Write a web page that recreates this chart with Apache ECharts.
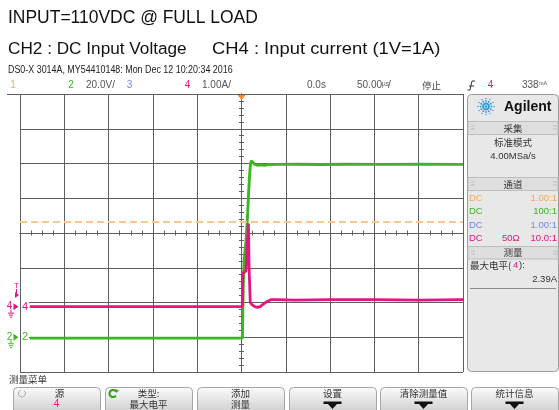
<!DOCTYPE html>
<html>
<head>
<meta charset="utf-8">
<script src="https://cdn.jsdelivr.net/npm/echarts@6.0.0/dist/echarts.min.js"></script>
<style>
html,body{margin:0;padding:0;background:#ffffff;}
#chart{width:559px;height:410px;}
</style>
</head>
<body>
<div id="chart"></div>
<script>
// ---------------- data ----------------
// CH2 : DC input voltage (V) against time (µs, trigger at 0)
const ch2TimeUs = [-239, 1.0, 2.0, 3.0, 5.0, 6.0, 7.0, 8.0, 9.0, 10.0, 11.0, 13.0, 15.0, 18.0, 22.0, 26.0, 30.0, 40.0, 60.0, 90.0, 120.0, 160.0, 200.0, 250.0];
const ch2Volts  = [-0.5, -0.5, 30, 45, 55, 63, 72, 83, 92, 99, 101.5, 101, 99.5, 99.0, 99.3, 98.9, 99.4, 99.5, 99.6, 99.4, 99.6, 99.5, 99.6, 99.5];
// CH4 : input current (A) against time (µs)
const ch4TimeUs = [-239, 1.0, 1.3, 3.0, 5.0, 7.0, 7.8, 8.6, 9.3, 9.9, 12.0, 15.0, 18.0, 21.0, 25.0, 29.0, 33.0, 40.0, 60.0, 100.0, 150.0, 200.0, 250.0];
const ch4Amps   = [0, 0, 0.95, 1.0, 1.03, 1.08, 2.39, 1.1, 1.07, 0.12, 0.05, 0.0, -0.02, 0.0, 0.08, 0.15, 0.2, 0.2, 0.19, 0.2, 0.2, 0.19, 0.2];
// scope settings
const timePerDivUs = 50;
const ch2VoltsPerDiv = 20;
const ch2GroundDiv = -3;
const ch4AmpsPerDiv = 1;
const ch4GroundDiv = -2.12;
const ch4TrigLevelA = 0.338;
const ch1LevelA = 2.43;
// texts
const titleText = 'INPUT=110VDC @ FULL LOAD';
const ch2Label = 'CH2 : DC Input Voltage';
const ch4Label = 'CH4 : Input current (1V=1A)';
const infoText = 'DS0-X 3014A, MY54410148: Mon Dec 12 10:20:34 2016';
const maxLevelText = '2.39A';

// ---------------- chart ----------------
const GRID = '#5e5e5e';
const C1 = '#f5a85c', C2 = '#3cb521', C3 = '#7388ea', C4 = '#e4157f';
const FONT = "'Liberation Sans', Arial, sans-serif";
const CJK = "'Noto Sans CJK SC', sans-serif";

const chart = echarts.init(document.getElementById('chart'), null, {renderer: 'canvas', width: 559, height: 410});

function xAx(pos, split) {
  return {
    type: 'value', min: -5 * timePerDivUs, max: 5 * timePerDivUs, interval: timePerDivUs, position: pos,
    axisLine: {show: true, onZero: true, onZeroAxisIndex: 0, lineStyle: {color: GRID, width: 1}},
    axisTick: {show: true, length: 2.5, lineStyle: {color: GRID}},
    minorTick: {show: true, splitNumber: 4, length: 2.5, lineStyle: {color: GRID}},
    axisLabel: {show: false},
    splitLine: {show: split, lineStyle: {color: GRID, width: 1}}
  };
}
function yAx(pos, split) {
  return {
    type: 'value', min: -4, max: 4, interval: 1, position: pos,
    axisLine: {show: true, onZero: true, onZeroAxisIndex: 0, lineStyle: {color: GRID, width: 1}},
    axisTick: {show: true, length: 2.5, lineStyle: {color: GRID}},
    minorTick: {show: true, splitNumber: 5, length: 2.5, lineStyle: {color: GRID}},
    axisLabel: {show: false},
    splitLine: {show: split, lineStyle: {color: GRID, width: 1}}
  };
}

const option = {
  animation: false,
  backgroundColor: '#ffffff',
  textStyle: {fontFamily: FONT},
  grid: {left: 20, right: 96, top: 94, bottom: 38, show: false},
  xAxis: [xAx('bottom', true), xAx('top', false)],
  yAxis: [
    yAx('left', true),
    yAx('right', false),
    {type: 'value', show: false, min: (-4 - ch2GroundDiv) * ch2VoltsPerDiv, max: (4 - ch2GroundDiv) * ch2VoltsPerDiv},
    {type: 'value', show: false, min: (-4 - ch4GroundDiv) * ch4AmpsPerDiv, max: (4 - ch4GroundDiv) * ch4AmpsPerDiv}
  ],
  series: [
    {
      name: 'CH2', type: 'line', xAxisIndex: 0, yAxisIndex: 2, showSymbol: false, z: 3,
      lineStyle: {color: C2, width: 2.9},
      data: ch2TimeUs.map((t, i) => [t, ch2Volts[i]])
    },
    {
      name: 'CH4', type: 'line', xAxisIndex: 0, yAxisIndex: 3, showSymbol: false, z: 4,
      lineStyle: {color: C4, width: 2.8},
      data: ch4TimeUs.map((t, i) => [t, ch4Amps[i]]),
      markLine: {
        silent: true, symbol: 'none', label: {show: false},
        lineStyle: {color: '#f9c690', type: [7, 4], width: 2},
        data: [{yAxis: ch1LevelA}]
      }
    }
  ]
};
chart.setOption(option);

// ---------------- decoration (scope UI) ----------------
function T(x, y, s, o) {
  o = o || {};
  const el = {
    type: 'text', x: x, y: y, z: o.z || 20, silent: true,
    style: {
      text: s, fill: o.color || '#222',
      font: (o.bold ? 'bold ' : '') + (o.size || 10) + 'px ' + (o.cjk ? CJK : FONT),
      align: o.align || 'left', verticalAlign: 'middle'
    }
  };
  if (o.scaleX) el.scaleX = o.scaleX;
  return el;
}
function L(x1, y1, x2, y2, c, w, z) {
  return {type: 'line', z: z || 20, silent: true, shape: {x1: x1, y1: y1, x2: x2, y2: y2}, style: {stroke: c, lineWidth: w || 1}};
}
function P(pts, c, z) {
  return {type: 'polygon', z: z || 20, silent: true, shape: {points: pts}, style: {fill: c}};
}

const g = [];
const xT0 = chart.convertToPixel({xAxisIndex: 0}, 0);
const yPink0 = chart.convertToPixel({yAxisIndex: 3}, 0);
const yGreen0 = chart.convertToPixel({yAxisIndex: 2}, 0);
const yTrig = chart.convertToPixel({yAxisIndex: 3}, ch4TrigLevelA);

// header
g.push(T(8, 18.5, titleText, {size: 18, scaleX: 0.97, color: '#111'}));
g.push(T(8, 49, ch2Label, {size: 17.2, color: '#111'}));
g.push(T(212, 49, ch4Label, {size: 17.2, scaleX: 1.07, color: '#111'}));
g.push(T(8, 70.5, infoText, {size: 10, scaleX: 0.89, color: '#222'}));
g.push(T(13, 85.5, '1', {color: C1, align: 'center'}));
g.push(T(71, 85.5, '2', {color: C2, align: 'center'}));
g.push(T(86, 85.5, '20.0V/', {color: '#555'}));
g.push(T(129.5, 85.5, '3', {color: C3, align: 'center'}));
g.push(T(187.5, 85.5, '4', {color: C4, align: 'center'}));
g.push(T(202, 85.5, '1.00A/', {color: '#555'}));
g.push(T(307, 85.5, '0.0s', {color: '#555'}));
g.push(T(357, 85.5, '50.00', {color: '#555'}));
g.push(T(382, 84, 'µs', {color: '#555', size: 6.5}));
g.push(T(388, 85.5, '/', {color: '#555'}));
g.push(T(422, 85.5, '停止', {color: '#444', cjk: true, size: 9.5}));
g.push({type: 'polyline', z: 20, silent: true, shape: {points: [[467.5, 90], [470, 90], [472, 81], [475, 81]]}, style: {stroke: '#333', lineWidth: 1, fill: null}});
g.push(L(469, 86, 474, 86, '#333', 1));
g.push(T(490.5, 85.5, '4', {color: C4, align: 'center'}));
g.push(T(522, 85.5, '338', {color: '#555'}));
g.push(T(539, 83.5, 'mA', {color: '#555', size: 5.5}));
// header separator extension
g.push(L(7, 94.5, 20, 94.5, GRID, 1));
// trigger position marker
g.push(P([[xT0 - 4, 95], [xT0 + 4, 95], [xT0, 100]], '#f08a2a'));

// left-side channel markers
g.push(T(9.5, yPink0, '4', {color: C4, size: 10, align: 'center'}));
g.push(P([[13.5, yPink0 - 3.5], [18.5, yPink0], [13.5, yPink0 + 3.5]], C4));
g.push(L(11, yPink0 + 3, 11, yPink0 + 6, C4, 1));
g.push(L(8, yPink0 + 6.5, 14, yPink0 + 6.5, C4, 1));
g.push(L(9, yPink0 + 8.5, 13, yPink0 + 8.5, C4, 1));
g.push(L(10, yPink0 + 10.5, 12, yPink0 + 10.5, C4, 1));
g.push(T(9.5, yGreen0, '2', {color: C2, size: 10, align: 'center'}));
g.push(P([[13.5, yGreen0 - 3.5], [18.5, yGreen0], [13.5, yGreen0 + 3.5]], C2));
g.push(L(11, yGreen0 + 3, 11, yGreen0 + 6, C2, 1));
g.push(L(8, yGreen0 + 6.5, 14, yGreen0 + 6.5, C2, 1));
g.push(L(9, yGreen0 + 8.5, 13, yGreen0 + 8.5, C2, 1));
g.push(L(10, yGreen0 + 10.5, 12, yGreen0 + 10.5, C2, 1));
g.push(T(16.5, yTrig - 9, 'T', {color: C4, size: 8, align: 'center'}));
g.push(P([[15, yTrig - 3], [19, yTrig], [15, yTrig + 3]], C4));
g.push(L(16.5, yTrig - 6, 16.5, yTrig, C4, 1));
// in-grid channel labels
g.push({type: 'rect', z: 15, silent: true, shape: {x: 21, y: yPink0 - 6, width: 8, height: 11}, style: {fill: '#fff'}});
g.push(T(25, yPink0, '4', {color: C4, size: 11, align: 'center'}));
g.push({type: 'rect', z: 15, silent: true, shape: {x: 21, y: yGreen0 - 6, width: 8, height: 11}, style: {fill: '#fff'}});
g.push(T(25, yGreen0, '2', {color: C2, size: 11, align: 'center'}));

// right panel
const PX = 467, PW = 91;
g.push({type: 'rect', z: 10, silent: true, shape: {x: PX + 0.5, y: 94.5, width: PW, height: 277, r: 4}, style: {fill: '#e8e8e8', stroke: '#9c9c9c', lineWidth: 1}});
// Agilent logo
(function () {
  const cx = 486, cy = 106.5;
  for (let k = 0; k < 12; k++) {
    const a = k * Math.PI / 6;
    const rs = [3, 5.5, 8];
    const sz = [1.1, 0.9, 0.7];
    for (let j = 0; j < 3; j++) {
      g.push({type: 'circle', z: 21, silent: true, shape: {cx: cx + rs[j] * Math.cos(a), cy: cy + rs[j] * Math.sin(a), r: sz[j]}, style: {fill: '#2e9ad6'}});
    }
  }
  g.push({type: 'circle', z: 21, silent: true, shape: {cx: cx, cy: cy, r: 1.3}, style: {fill: '#2e9ad6'}});
})();
g.push(T(504, 107, 'Agilent', {bold: true, size: 14, color: '#111'}));
function band(y0, y1, label) {
  g.push({type: 'rect', z: 11, silent: true, shape: {x: PX + 1, y: y0, width: PW - 1, height: y1 - y0}, style: {fill: '#dedede', stroke: '#bdbdbd', lineWidth: 1}});
  g.push(T(513, (y0 + y1) / 2, label, {cjk: true, size: 9.5, align: 'center', color: '#333'}));
  g.push(T(471, (y0 + y1) / 2, '⁞⁞', {size: 7, color: '#aaa'}));
  g.push(T(553, (y0 + y1) / 2, '⁞⁞', {size: 7, color: '#aaa'}));
}
band(121.5, 134.5, '采集');
g.push(T(513, 142, '标准模式', {cjk: true, size: 9.5, align: 'center', color: '#333'}));
g.push(T(513, 156.5, '4.00MSa/s', {size: 9.5, align: 'center', color: '#333'}));
band(177.5, 190.5, '通道');
const rowsY = [198, 211.5, 225, 238.5];
const rowCol = [C1, C2, C3, C4];
const rowVal = ['1.00:1', '100:1', '1.00:1', '10.0:1'];
for (let i = 0; i < 4; i++) {
  g.push(T(469, rowsY[i], 'DC', {size: 9.5, color: rowCol[i]}));
  g.push(T(557, rowsY[i], rowVal[i], {size: 9.5, color: rowCol[i], align: 'right'}));
}
g.push(T(502, rowsY[3], '50Ω', {size: 9.5, color: C4}));
band(246.5, 259, '测量');
g.push(T(470, 265, '最大电平(', {cjk: true, size: 9.5, color: '#333'}));
g.push(T(513, 265, '4', {size: 9.5, color: C4}));
g.push(T(519, 265, '):', {size: 9.5, color: '#333'}));
g.push(T(557, 279, maxLevelText, {size: 9.5, color: '#333', align: 'right'}));
g.push(L(470, 288.5, 556, 288.5, '#8a8a8a', 1));

// bottom menu
g.push(T(9, 379, '测量菜单', {cjk: true, size: 9.5, color: '#333'}));
const btnX = [13, 105, 197, 289, 380, 471];
const btnW = 87;
const grad = new echarts.graphic.LinearGradient(0, 0, 0, 1, [{offset: 0, color: '#fbfbfb'}, {offset: 1, color: '#c9c9c9'}]);
btnX.forEach(function (x) {
  g.push({type: 'rect', z: 10, silent: true, shape: {x: x + 0.5, y: 387.5, width: btnW, height: 28, r: 4}, style: {fill: grad, stroke: '#a5a5a5', lineWidth: 1}});
});
const bc = btnX.map(x => x + btnW / 2);
g.push(T(bc[0] + 3, 393.5, '源', {cjk: true, size: 9.5, color: '#333', align: 'center'}));
g.push(T(bc[0], 404.5, '4', {size: 10, color: C4, align: 'center'}));
g.push({type: 'arc', z: 21, silent: true, shape: {cx: 22, cy: 393.5, r: 3.5, startAngle: -Math.PI * 0.3, endAngle: Math.PI * 1.4}, style: {stroke: '#aaa', lineWidth: 1, fill: null}});
g.push({type: 'arc', z: 21, silent: true, shape: {cx: 113, cy: 393.5, r: 3.5, startAngle: Math.PI * 0.2, endAngle: Math.PI * 1.8}, style: {stroke: '#3aa020', lineWidth: 2.2, fill: null}});
g.push(P([[115, 389], [119, 390.5], [116, 393]], '#3aa020'));
g.push(T(bc[1], 393.5, '类型:', {cjk: true, size: 9.5, color: '#333', align: 'center'}));
g.push(T(bc[1], 404.5, '最大电平', {cjk: true, size: 9.5, color: '#333', align: 'center'}));
g.push(T(bc[2], 393.5, '添加', {cjk: true, size: 9.5, color: '#333', align: 'center'}));
g.push(T(bc[2], 404.5, '测量', {cjk: true, size: 9.5, color: '#333', align: 'center'}));
const btnTop = ['设置', '清除测量值', '统计信息'];
for (let i = 0; i < 3; i++) {
  const cx = bc[3 + i];
  g.push(T(cx, 393.5, btnTop[i], {cjk: true, size: 9.5, color: '#333', align: 'center'}));
  g.push(P([[cx - 9, 401.5], [cx + 9, 401.5], [cx + 9, 404], [cx + 4.5, 404], [cx, 409], [cx - 4.5, 404], [cx - 9, 404]], '#111'));
}

chart.setOption({graphic: {elements: g}});
</script>
</body>
</html>
